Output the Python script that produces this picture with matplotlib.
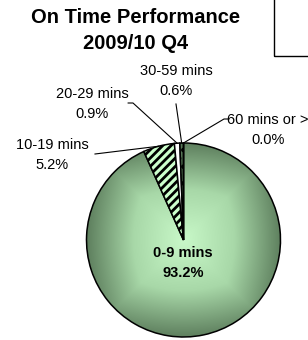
import numpy as np
import matplotlib
matplotlib.use("Agg")
import matplotlib.pyplot as plt
from matplotlib.colors import LinearSegmentedColormap
from matplotlib.patches import Rectangle

plt.rcParams['font.family'] = ['Liberation Sans', 'DejaVu Sans']
plt.rcParams['hatch.linewidth'] = 2.0

categories = ["0-9 mins", "10-19 mins", "20-29 mins", "30-59 mins", "60 mins or >"]
values = [93.2, 5.2, 0.9, 0.6, 0.0]
title = "On Time Performance\n2009/10 Q4"

# pixel -> data helper (pie radius 97px, centre at 183.5, 240 from top)
R = 97.0
CX, CY = 183.5, 240.0


def px(x, y):
    return ((x - CX) / R, (CY - y) / R)


fig = plt.figure(figsize=(3.08, 3.40), dpi=100)
ax = fig.add_axes([0, 0, 1, 1])

wedges, _ = ax.pie(values, startangle=90, counterclock=False, radius=1.0,
                   colors=["none", "#ccffcc", "white", "#587858", "#587858"],
                   wedgeprops=dict(edgecolor="black", linewidth=1.1))

ax.set_aspect("equal")
ax.axis("off")

# hatches
wedges[1].set_hatch("////")
wedges[3].set_hatch("..")

# gradient fill for the big slice
n = 400
g = np.linspace(-1, 1, n)
xx, yy = np.meshgrid(g, g)
t = np.clip(0.55 * np.maximum(np.abs(xx), np.abs(yy)) + 0.41 * np.hypot(xx, yy), 0, 1)
cmap = LinearSegmentedColormap.from_list("g", ["#c8f8c8", "#a8d8a8", "#587858"])
im = ax.imshow(t, extent=(-1, 1, -1, 1), cmap=cmap, vmin=0, vmax=1, zorder=0,
               origin="lower", interpolation="bilinear")
im.set_clip_path(wedges[0])
ax.set_xlim(-CX / R, (308 - CX) / R)
ax.set_ylim(-(340 - CY) / R, CY / R)

# title
ax.text(*px(136, 17), title.split("\n")[0], ha="center", va="center",
        fontsize=14.5, fontweight="bold")
ax.text(*px(136, 43), title.split("\n")[1], ha="center", va="center",
        fontsize=14.5, fontweight="bold")

# truncated legend box in the corner
x0, y0 = px(274, 56)
ax.add_patch(Rectangle((x0, y0), 1.0, 1.0, fill=False, edgecolor="black",
                       linewidth=1.0, clip_on=False))


def mid_point(w, r=1.0):
    a = np.deg2rad((w.theta1 + w.theta2) / 2)
    return r * np.cos(a), r * np.sin(a)


fs = 10.5
ax.text(*px(183, 263), f"{categories[0]}\n{values[0]:.1f}%", ha="center",
        va="center", fontsize=fs, fontweight="bold", linespacing=1.5)

label_pos = {1: (52, 155), 2: (92, 104), 3: (176, 81), 4: (268, 130)}
line_start = {1: (95, 154), 2: (133, 103), 3: (176, 104), 4: (224, 119)}
for i, (lx, ly) in label_pos.items():
    ax.text(*px(lx, ly), f"{categories[i]}\n{values[i]:.1f}%", ha="center",
            va="center", fontsize=fs, linespacing=1.5)
    sx, sy = px(*line_start[i])
    ex, ey = mid_point(wedges[i])
    if i == 2:
        ax.plot([sx - 0.05, sx, ex], [sy, sy, ey], color="black", lw=0.8)
    elif i == 4:
        ax.plot([sx + 0.05, sx, ex], [sy, sy, ey], color="black", lw=0.8)
    else:
        ax.plot([sx, ex], [sy, ey], color="black", lw=0.8)

fig.savefig("out.png", dpi=100)
